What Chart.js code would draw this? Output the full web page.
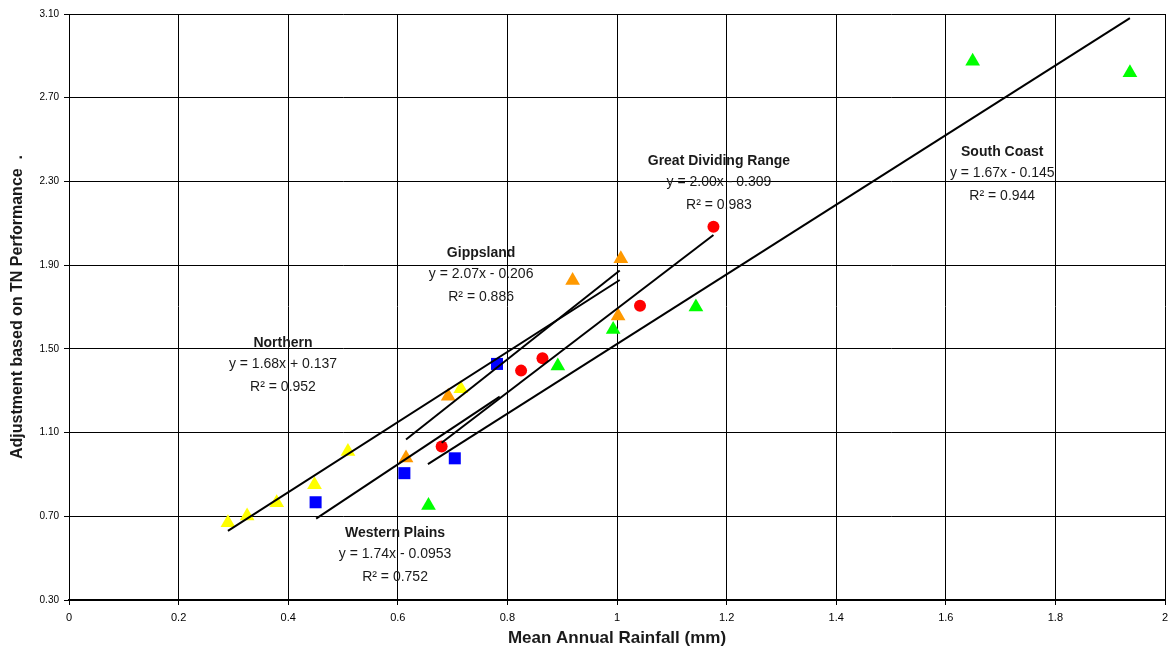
<!DOCTYPE html>
<html>
<head>
<meta charset="utf-8">
<script src="https://cdn.jsdelivr.net/npm/chart.js@4.4.0/dist/chart.umd.min.js"></script>
<style>
  html, body { margin: 0; padding: 0; background: #fff; }
  #wrap { width: 1168px; height: 651px; }
</style>
</head>
<body>
<div id="wrap"><canvas id="chart" width="1168" height="651"></canvas></div>
<script>
// axis ticks
const xTicks = [0, 0.2, 0.4, 0.6, 0.8, 1, 1.2, 1.4, 1.6, 1.8, 2];
const yTicks = [0.30, 0.70, 1.10, 1.50, 1.90, 2.30, 2.70, 3.10];

// region data (mean annual rainfall vs adjustment)
const northernX = [0.290, 0.325, 0.379, 0.448, 0.509, 0.715];
const northernY = [0.669, 0.701, 0.765, 0.851, 1.010, 1.309];
const gippslandX = [0.615, 0.692, 0.919, 1.002, 1.007];
const gippslandY = [0.978, 1.274, 1.827, 1.657, 1.930];
const gdrX = [0.680, 0.825, 0.864, 1.042, 1.176];
const gdrY = [1.033, 1.396, 1.455, 1.706, 2.084];
const westernX = [0.450, 0.612, 0.704, 0.781];
const westernY = [0.767, 0.906, 0.977, 1.428];
const southX = [0.656, 0.892, 0.993, 1.144, 1.649, 1.936];
const southY = [0.752, 1.418, 1.593, 1.700, 2.874, 2.819];

// trendline end points: Northern, Gippsland, GDR, Western Plains, South Coast
const trendX1 = [0.290, 0.615, 0.680, 0.451, 0.655];
const trendY1 = [0.630, 1.067, 1.051, 0.689, 0.949];
const trendX2 = [1.005, 1.005, 1.176, 0.786, 1.936];
const trendY2 = [1.829, 1.874, 2.044, 1.272, 3.080];

// trendline labels
const regionNames = ['Northern', 'Gippsland', 'Great Dividing Range', 'South Coast', 'Western Plains'];
const regionEquations = ['y = 1.68x + 0.137', 'y = 2.07x - 0.206', 'y = 2.00x - 0.309', 'y = 1.67x - 0.145', 'y = 1.74x - 0.0953'];
const regionR2 = ['0.952', '0.886', '0.983', '0.944', '0.752'];
const labelX = [0.3905, 0.752, 1.186, 1.703, 0.595];
const labelY = [1.528, 1.958, 2.398, 2.441, 0.620];

const SANS = '"Liberation Sans", Arial, sans-serif';
const NARROW = '"Liberation Sans Narrow", "Arial Narrow", "Liberation Sans", sans-serif';

const toPts = (xs, ys) => xs.map((x, i) => ({ x: x, y: ys[i] }));

const markerSet = (label, xs, ys, color, style, r) => ({
    label: label,
    data: toPts(xs, ys),
    pointStyle: style,
    pointRadius: r,
    pointHoverRadius: r,
    backgroundColor: color,
    borderColor: color,
    borderWidth: 0,
    showLine: false,
    order: 2
});

const trendSets = trendX1.map((x1, i) => ({
    label: 'trend ' + regionNames[i],
    data: [{ x: x1, y: trendY1[i] }, { x: trendX2[i], y: trendY2[i] }],
    showLine: true,
    borderColor: '#000',
    borderWidth: 2,
    pointRadius: 0,
    pointHoverRadius: 0,
    fill: false,
    order: 1
}));

// keep the plot running almost to the right edge, as in the original
const pinArea = {
    id: 'pinArea',
    afterLayout(chart) {
        const ca = chart.chartArea;
        const x = chart.scales.x;
        ca.right = chart.width - 3;
        ca.width = ca.right - ca.left;
        x.right = ca.right;
        x.width = ca.width;
        x.configure();
    }
};

// labels written on the plot, like the Excel trendline labels
const regionLabels = {
    id: 'regionLabels',
    afterDatasetsDraw(chart) {
        const { ctx, scales: { x, y } } = chart;
        ctx.save();
        ctx.fillStyle = '#1a1a1a';
        ctx.textAlign = 'center';
        ctx.textBaseline = 'middle';
        regionNames.forEach((name, i) => {
            const px = x.getPixelForValue(labelX[i]);
            const py = y.getPixelForValue(labelY[i]);
            ctx.font = 'bold 14px ' + SANS;
            ctx.fillText(name, px, py);
            ctx.font = '14px ' + SANS;
            ctx.fillText(regionEquations[i], px, py + 21.5);
            ctx.fillText('R\u00b2 = ' + regionR2[i], px, py + 44);
        });
        ctx.restore();
    }
};

new Chart(document.getElementById('chart'), {
    type: 'scatter',
    data: {
        datasets: [
            ...trendSets,
            markerSet('Northern', northernX, northernY, '#ffff00', 'triangle', 8.5),
            markerSet('Gippsland', gippslandX, gippslandY, '#ff9900', 'triangle', 8.5),
            markerSet('Great Dividing Range', gdrX, gdrY, '#ff0000', 'circle', 6),
            markerSet('Western Plains', westernX, westernY, '#0000ff', 'rect', 8.5),
            markerSet('South Coast', southX, southY, '#00ff00', 'triangle', 8.5)
        ]
    },
    options: {
        responsive: false,
        animation: false,
        layout: { padding: { top: 14, right: 3, left: 0, bottom: 0 } },
        plugins: { legend: { display: false }, tooltip: { enabled: false } },
        scales: {
            x: {
                type: 'linear',
                min: 0,
                max: 2,
                afterBuildTicks: s => { s.ticks = xTicks.map(v => ({ value: v })); },
                afterFit: s => { s.height = 51; },
                ticks: {
                    color: '#000',
                    padding: 6,
                    font: { family: NARROW, size: 11 },
                    callback: v => String(v)
                },
                grid: { color: '#000', lineWidth: 1, drawTicks: true, tickLength: 5, tickColor: '#000' },
                border: { color: '#000', width: 2 },
                title: {
                    display: true,
                    text: 'Mean Annual Rainfall (mm)',
                    color: '#1a1a1a',
                    font: { family: NARROW, size: 17, weight: 'bold' },
                    padding: { top: 0, bottom: 2 }
                }
            },
            y: {
                type: 'linear',
                min: 0.3,
                max: 3.1,
                afterBuildTicks: s => { s.ticks = yTicks.map(v => ({ value: v })); },
                afterFit: s => { s.width = 69; },
                ticks: {
                    color: '#000',
                    padding: 5,
                    font: { family: SANS, size: 10 },
                    callback: v => Number(v).toFixed(2)
                },
                grid: { color: '#000', lineWidth: 1, drawTicks: true, tickLength: 5, tickColor: '#000' },
                border: { color: '#000', width: 1 },
                title: {
                    display: true,
                    text: 'Adjustment based on TN Performance  .',
                    color: '#1a1a1a',
                    font: { family: SANS, size: 16, weight: 'bold' },
                    padding: { top: 8, bottom: 0 }
                }
            }
        }
    },
    plugins: [pinArea, regionLabels]
});
</script>
</body>
</html>
